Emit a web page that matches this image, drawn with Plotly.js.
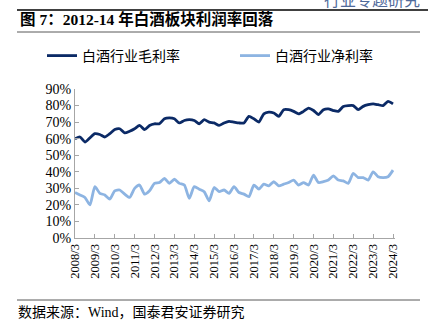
<!DOCTYPE html>
<html><head><meta charset="utf-8">
<script src="https://cdn.plot.ly/plotly-3.0.1.min.js"></script>
<style>html,body{margin:0;padding:0;background:#fff}#c{width:428px;height:323px}</style>
</head><body><div id="c"></div>
<script>
const years = ["2008/3","2009/3","2010/3","2011/3","2012/3","2013/3","2014/3","2015/3","2016/3","2017/3","2018/3","2019/3","2020/3","2021/3","2022/3","2023/3","2024/3"];
const grossMargin = [60,61,58,60.5,63,62.5,61,63,65.5,66,63.5,64.5,66,68,65.5,68,
  69,69,72,72.5,72,69.5,71,71.5,71,69,71.5,70,69.5,68,69.5,70.5,
  70,69.5,69.5,73.5,72,70,75,76,75.5,73.5,77.5,77.5,76.5,75,76.5,78.5,
  77,74.5,77.5,78,77,76.5,79.5,80,80,77.5,79.5,80.5,81,80.5,80,82.5,81];
const netMargin = [27.5,26,24.5,20,31,27,26,23.5,28.5,29,26.5,24.5,30,32,26.5,28.5,
  33,33.5,36,33,35.5,33,32,24,31,29.5,28,22.5,30.5,28,29,27,
  31,27.5,26.5,25,32,29.5,32.5,31.5,34,31.5,32.5,33.5,35,32,33.5,32,
  38,33.5,34,35,37.5,35,34.5,33,39,36.5,36.5,35,40,37,36.5,37,41];
const seriesNames = ["白酒行业毛利率","白酒行业净利率"];
const idx = grossMargin.map((_, i) => i);
const tickPos = years.map((_, i) => i * 4);
const serif = "Times New Roman, Liberation Serif, Noto Sans CJK SC, serif";
// plot area: x 75..395, y 89..238 (px)
const px = v => (v - 75) / 320;
const py = v => (238 - v) / 149;
const traces = [
  {x: idx, y: grossMargin, name: seriesNames[0], type: "scatter", mode: "lines",
   line: {color: "#0b2a66", width: 2.8, shape: "spline", smoothing: 0.6}},
  {x: idx, y: netMargin, name: seriesNames[1], type: "scatter", mode: "lines",
   line: {color: "#8db4e2", width: 2.8, shape: "spline", smoothing: 0.6}}
];
const layout = {
  width: 428, height: 323,
  margin: {l: 75, r: 33, t: 89, b: 85},
  paper_bgcolor: "#fff", plot_bgcolor: "#fff",
  font: {family: serif, color: "#000"},
  showlegend: true,
  legend: {orientation: "h", x: px(70), xanchor: "left", y: py(56), yanchor: "middle",
    font: {size: 14, family: serif}, entrywidth: 148, entrywidthmode: "pixels", bgcolor: "rgba(0,0,0,0)"},
  xaxis: {range: [0, 64.4], tickvals: tickPos, ticktext: years, tickangle: -90,
    showgrid: false, zeroline: false, showline: true, linecolor: "#a6a6a6", linewidth: 1,
    ticks: "inside", ticklen: 4, tickcolor: "#a6a6a6", tickfont: {size: 12.5, family: serif}},
  yaxis: {range: [0, 90], dtick: 10, ticksuffix: "%", showgrid: false, zeroline: false,
    showline: true, linecolor: "#a6a6a6", linewidth: 1, ticks: "inside", ticklen: 4, tickcolor: "#a6a6a6",
    tickfont: {size: 14, family: serif}},
  shapes: [
    {type: "line", xref: "paper", yref: "paper", x0: px(17), x1: px(428), y0: py(10), y1: py(10), line: {color: "#404040", width: 2}},
    {type: "line", xref: "paper", yref: "paper", x0: px(17), x1: px(420), y0: py(32), y1: py(32), line: {color: "#595959", width: 1}},
    {type: "line", xref: "paper", yref: "paper", x0: px(17), x1: px(420), y0: py(300), y1: py(300), line: {color: "#595959", width: 1}}
  ],
  annotations: [
    {text: "<b>图 7：2012-14 年白酒板块利润率回落</b>", xref: "paper", yref: "paper", x: px(18), y: py(19),
     xanchor: "left", yanchor: "middle", showarrow: false, font: {size: 15.5, family: serif, color: "#000"}},
    {text: "行业专题研究", xref: "paper", yref: "paper", x: px(422), y: py(0),
     xanchor: "right", yanchor: "middle", showarrow: false, font: {size: 16, family: serif, color: "#4f6a9a"}},
    {text: "数据来源：Wind，国泰君安证券研究", xref: "paper", yref: "paper", x: px(16), y: py(312),
     xanchor: "left", yanchor: "middle", showarrow: false, font: {size: 14, family: serif, color: "#000"}}
  ]
};
Plotly.newPlot("c", traces, layout, {staticPlot: true, displayModeBar: false});
</script></body></html>
